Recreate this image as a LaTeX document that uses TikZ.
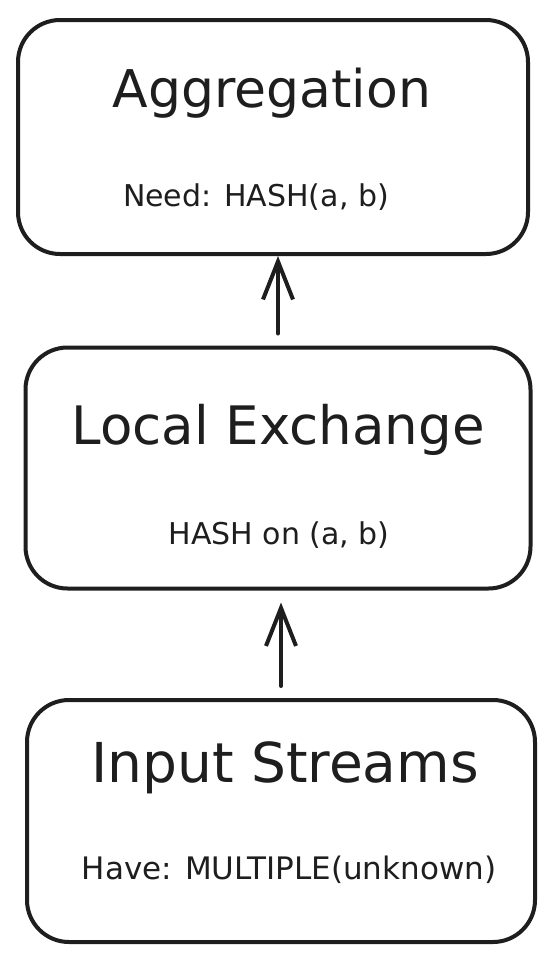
\documentclass[tikz,border=0pt]{standalone}
\usepackage{fontspec}
\setmainfont{DejaVu Sans}
\usetikzlibrary{arrows.meta,calc}
\definecolor{ink}{HTML}{1E1E1E}
\begin{document}
\begin{tikzpicture}[x=1pt,y=-1pt,
  box/.style={draw=ink,line width=4pt,rounded corners=42pt,inner sep=0pt},
  title/.style={anchor=base,text=ink,font=\fontsize{53}{58}\selectfont},
  sub/.style={anchor=base,text=ink,font=\fontsize{30}{34}\selectfont},
  arr/.style={draw=ink,line width=4pt,line cap=round,-{Straight Barb[length=38pt,width=30pt,line width=4pt]}}]
\useasboundingbox (0,0) rectangle (555,962);
\fill[white] (0,0) rectangle (555,962);
% boxes
\node[box,minimum width=510pt,minimum height=234pt] (b1) at (273,137) {};
\node[box,minimum width=505pt,minimum height=241pt] (b2) at (278,468) {};
\node[box,minimum width=508pt,minimum height=242pt] (b3) at (281,821) {};
% texts
\node[title,font=\fontsize{52}{58}\selectfont] (t1) at (272,107) {Aggregation};
\node[sub] (s1) at (256,206) {Need: HASH(a, b)};
\node[title] (t2) at (278,444) {Local Exchange};
\node[sub] (s2) at (279,544) {HASH on (a, b)};
\node[title,font=\fontsize{55}{60}\selectfont] (t3) at (285,782) {Input Streams};
\node[sub,font=\fontsize{31}{36}\selectfont] (s3) at (289,879) {Have: MULTIPLE(unknown)};
% arrows
\draw[arr,shorten <=12pt] (b2.north) -- (b2.north |- b1.south);
\draw[arr,shorten <=12pt,shorten >=12pt] (b3.north) -- (b3.north |- b2.south);
\end{tikzpicture}
\end{document}
